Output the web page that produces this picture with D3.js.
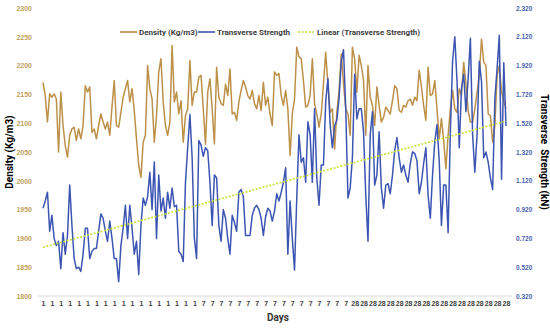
<!DOCTYPE html>
<html>
<head>
<meta charset="utf-8">
<script src="https://cdn.jsdelivr.net/npm/d3@7"></script>
<style>
  body { margin: 0; background: #fff; }
  svg { display: block; font-family: "Liberation Sans Narrow", Roboto, sans-serif; }
</style>
</head>
<body>
<div id="chart"></div>
<script>
// Density (Kg/m3), one array per curing age
const density1 = [2171,2148,2102,2151,2145,2151,2142,2050,2154,2096,2061,2041,2079,2090,2093,2070,2090,2073,2096,2165,2154,2163,2084,2090,2073,2096,2116,2102,2090,2102,2079,2128,2174,2096,2093,2119,2145,2160,2174,2137,2160,2122,2073,2027,2006,2067,2079,2200,2160,2142,2067,2113,2189,2212,2137,2096,2079,2102,2235,2137,2154,2116,2139,2067,2113,2125,2209,2131,2154,2154];
const density7 = [2180,2183,2125,2064,2154,2177,2125,2064,2197,2145,2134,2131,2168,2148,2194,2116,2119,2105,2137,2157,2174,2163,2148,2142,2157,2134,2125,2148,2122,2171,2131,2145,2116,2096,2189,2183,2186,2148,2131,2157,2125,2044,2116,2142,2232,2215,2212,2174,2128,2131,2148,2212,2134,2116,2093,2116,2168,2223,2168,2119,2125,2055,2119,2157,2220,2168,2125,2116,2079,2232];
const density28 = [2212,2154,2218,2200,2174,2079,2200,2145,2131,2096,2163,2131,2102,2110,2128,2122,2116,2139,2165,2160,2122,2119,2131,2128,2139,2142,2131,2145,2139,2192,2163,2131,2105,2197,2148,2151,2174,2125,2073,2108,2070,2021,2079,2125,2157,2125,2119,2160,2148,2206,2168,2122,2102,2102,2125,2154,2183,2246,2206,2200,2116,2113,2067,2096,2183,2200,2154,2139,2125];

// Transverse strength (kN)
const strength1 = [0.93,0.98,1.04,0.77,0.88,0.72,0.67,0.70,0.51,0.76,0.61,0.74,1.09,0.81,0.58,0.51,0.52,0.49,0.61,0.79,0.79,0.58,0.63,0.65,0.65,0.77,0.89,0.86,0.77,0.70,0.84,0.72,0.58,0.58,0.42,0.67,0.79,0.95,0.72,0.95,0.79,0.61,0.70,0.47,0.81,1.00,0.95,1.01,1.18,0.92,1.25,0.72,1.16,0.91,1.00,0.86,1.04,0.93,1.07,0.94,0.95,0.63,0.61,0.56,1.11,1.35,1.58,1.28,0.72,0.58];
const strength7 = [1.40,1.37,1.29,1.35,1.33,1.11,0.81,1.16,1.14,0.81,0.70,0.92,0.86,0.72,0.61,0.88,0.83,0.77,1.04,1.06,1.01,0.74,0.74,0.74,0.88,0.93,0.95,0.92,0.86,0.74,0.87,0.93,0.91,0.84,0.91,1.03,0.98,1.04,1.11,1.21,0.61,0.98,0.72,0.50,1.00,1.44,1.25,1.28,1.11,1.53,1.44,1.11,1.62,1.14,0.95,1.23,1.23,1.67,1.83,1.51,1.35,1.50,1.54,1.69,1.95,2.03,1.62,1.00,1.07,1.28];
const strength28 = [1.86,1.55,1.62,1.62,1.46,1.02,0.70,1.44,1.60,1.09,1.16,1.46,1.07,0.93,1.09,1.10,1.03,1.16,1.33,1.42,1.28,1.18,1.23,1.16,1.11,1.24,1.32,1.31,1.26,1.03,1.11,1.24,1.35,1.02,0.86,1.16,1.39,1.51,1.26,0.81,1.09,1.09,0.76,1.46,1.95,2.12,1.81,1.35,1.76,1.86,1.60,1.83,2.11,1.44,1.18,1.44,1.95,1.81,1.28,1.32,1.25,1.14,1.06,1.69,1.90,2.13,1.13,1.94,1.50];

const dayLabels = [1, 7, 28];
const densityTicks = [1800,1850,1900,1950,2000,2050,2100,2150,2200,2250,2300];
const strengthTicks = [0.32,0.52,0.72,0.92,1.12,1.32,1.52,1.72,1.92,2.12,2.32];

// build the combined series
const density = density1.concat(density7, density28);
const strength = strength1.concat(strength7, strength28);
const days = [].concat(
    density1.map(() => dayLabels[0]),
    density7.map(() => dayLabels[1]),
    density28.map(() => dayLabels[2])
);
const idx = d3.range(density.length);

const width = 550, height = 330;
const svg = d3.select('#chart').append('svg')
    .attr('width', width)
    .attr('height', height);

const x = d3.scalePoint().domain(idx).range([43, 506]);
const yL = d3.scaleLinear().domain([1800, 2300]).range([296, 8]);
const yR = d3.scaleLinear().domain([0.32, 2.32]).range([296, 8]);

// baseline
svg.append('line')
    .attr('x1', 38).attr('x2', 512)
    .attr('y1', yL(1800)).attr('y2', yL(1800))
    .attr('stroke', '#d9d9d9').attr('stroke-width', 1);

// left axis
const leftAxis = svg.append('g')
    .attr('transform', 'translate(34,0)')
    .call(d3.axisLeft(yL).tickValues(densityTicks).tickFormat(d3.format('d')).tickSize(0).tickPadding(2));
leftAxis.select('.domain').remove();
leftAxis.selectAll('text')
    .attr('fill', '#c0a060').attr('font-size', 7).attr('font-weight', 'bold');

// right axis
const rightAxis = svg.append('g')
    .attr('transform', 'translate(514,0)')
    .call(d3.axisRight(yR).tickValues(strengthTicks).tickFormat(d3.format('.3f')).tickSize(0).tickPadding(2));
rightAxis.select('.domain').remove();
rightAxis.selectAll('text')
    .attr('fill', '#4a5fb4').attr('font-size', 6.5).attr('font-weight', 'bold');

// bottom axis, one label every 4th point
const bottomAxis = svg.append('g')
    .attr('transform', `translate(0,${yL(1800)})`)
    .call(d3.axisBottom(x)
        .tickValues(idx.filter(i => i % 4 === 0))
        .tickFormat(i => days[i])
        .tickSize(0).tickPadding(5));
bottomAxis.select('.domain').remove();
bottomAxis.selectAll('text')
    .attr('fill', '#404040').attr('font-size', 7).attr('font-weight', 'bold');

// lines
const densityLine = d3.line().x(i => x(i)).y(i => yL(density[i]));
const strengthLine = d3.line().x(i => x(i)).y(i => yR(strength[i]));

svg.append('path')
    .attr('d', densityLine(idx))
    .attr('fill', 'none')
    .attr('stroke', '#bc9048')
    .attr('stroke-width', 1.5)
    .attr('stroke-linejoin', 'round');

svg.append('path')
    .attr('d', strengthLine(idx))
    .attr('fill', 'none')
    .attr('stroke', '#3d55b2')
    .attr('stroke-width', 1.5)
    .attr('stroke-linejoin', 'round');

// linear trendline of transverse strength (least squares on point number)
const mx = d3.mean(idx), my = d3.mean(strength);
const slope = d3.sum(idx, i => (i - mx) * (strength[i] - my)) / d3.sum(idx, i => (i - mx) * (i - mx));
const intercept = my - slope * mx;
const ends = [idx[0], idx[idx.length - 1]];
svg.append('path')
    .attr('d', d3.line().x(i => x(i)).y(i => yR(intercept + slope * i))(ends))
    .attr('fill', 'none')
    .attr('stroke', '#c8e03a')
    .attr('stroke-width', 1.6)
    .attr('stroke-dasharray', '2,1.5');

// axis titles
svg.append('text')
    .attr('transform', 'translate(13,152) rotate(-90)')
    .attr('text-anchor', 'middle')
    .attr('font-size', 10).attr('font-weight', 'bold').attr('fill', '#000')
    .text('Density (Kg/m3)');

svg.append('text')
    .attr('transform', 'translate(541,152) rotate(90)')
    .attr('text-anchor', 'middle')
    .attr('font-size', 10).attr('font-weight', 'bold').attr('fill', '#000')
    .style('white-space', 'pre')
    .text('Transverse  Strength (kN)');

svg.append('text')
    .attr('x', 278).attr('y', 321)
    .attr('text-anchor', 'middle')
    .attr('font-size', 10).attr('font-weight', 'bold').attr('fill', '#333')
    .text('Days');

// legend
const legendItems = [
    { label: 'Density (Kg/m3)', color: '#bc9048', dash: null, x: 120 },
    { label: 'Transverse Strength', color: '#3d55b2', dash: null, x: 198 },
    { label: 'Linear (Transverse Strength)', color: '#c8e03a', dash: '2,1.5', x: 298 }
];
const legend = svg.append('g').attr('transform', 'translate(0,32)');
legendItems.forEach(d => {
    legend.append('line')
        .attr('x1', d.x).attr('x2', d.x + 17)
        .attr('y1', 0).attr('y2', 0)
        .attr('stroke', d.color).attr('stroke-width', 1.6)
        .attr('stroke-dasharray', d.dash);
    legend.append('text')
        .attr('x', d.x + 19).attr('y', 2.5)
        .attr('font-size', 8).attr('font-weight', 'bold').attr('fill', '#404040')
        .text(d.label);
});
</script>
</body>
</html>
